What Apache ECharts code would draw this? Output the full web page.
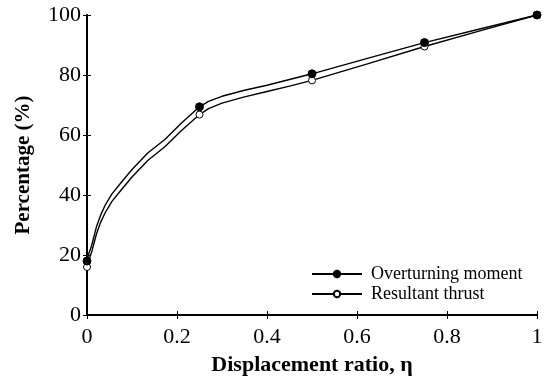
<!DOCTYPE html>
<html>
<head>
<meta charset="utf-8">
<script src="https://cdn.jsdelivr.net/npm/echarts@6/dist/echarts.min.js"></script>
<style>
  html, body { margin: 0; padding: 0; background: #fff; }
  #chart { width: 549px; height: 379px; }
</style>
</head>
<body>
<div id="chart"></div>
<script>
// Displacement ratio at which the two quantities were computed
const ratioPoints = [0, 0.25, 0.5, 0.75, 1];
const momentPoints = [18, 69.4, 80.4, 90.8, 100];
const thrustPoints = [16, 66.8, 78.2, 89.5, 100];

// Points traced along the fitted curves between the computed values
const curveRatio = [0, 0.004, 0.01, 0.021, 0.03, 0.04, 0.055, 0.075, 0.1, 0.135, 0.173, 0.21, 0.25,
                    0.27, 0.3, 0.35, 0.4, 0.45, 0.5, 0.625, 0.75, 0.875, 1];
const momentCurve = [18, 20.5, 23, 29.4, 33.2, 36.5, 40.3, 44, 48.5, 54, 58.5, 64, 69.4,
                     71.2, 72.9, 74.9, 76.6, 78.5, 80.4, 85.6, 90.8, 95.4, 100];
const thrustCurve = [16, 18.3, 20.8, 27, 30.8, 34, 37.8, 41.5, 46, 51.5, 56.1, 61.5, 66.8,
                     68.8, 70.6, 72.7, 74.5, 76.3, 78.2, 83.8, 89.5, 94.8, 100];

const xTicks = ['0', '0.2', '0.4', '0.6', '0.8', '1'];
const yTicks = ['0', '20', '40', '60', '80', '100'];

const FONT = 'Liberation Serif';

// Only the computed points carry a marker; traced points are plain line vertices
function buildSeriesData(xs, ys) {
  return xs.map((x, i) => {
    const marked = ratioPoints.includes(x);
    return marked ? [x, ys[i]] : { value: [x, ys[i]], symbol: 'none' };
  });
}

const chart = echarts.init(document.getElementById('chart'), null, { renderer: 'canvas' });

const axisCommon = {
  min: 0,
  axisLine: { show: true, lineStyle: { color: '#000', width: 2 } },
  axisTick: { show: true, inside: true, length: 4, lineStyle: { color: '#000', width: 1 } },
  splitLine: { show: false }
};

chart.setOption({
  animation: false,
  backgroundColor: '#fff',
  grid: { left: 87, right: 12, top: 15, bottom: 64, containLabel: false, outerBoundsMode: 'none' },
  legend: {
    left: 306,
    top: 260,
    orient: 'vertical',
    itemWidth: 50,
    itemHeight: 8,
    itemGap: 2,
    data: ['Overturning moment', 'Resultant thrust'],
    textStyle: { fontFamily: FONT, fontSize: 18, color: '#000', padding: [0, 0, 0, 4] }
  },
  xAxis: [
    Object.assign({}, axisCommon, {
      type: 'value', max: 1, interval: 0.2, position: 'bottom',
      name: 'Displacement ratio, η',
      nameLocation: 'middle',
      nameGap: 39,
      nameTextStyle: { fontFamily: FONT, fontSize: 22, fontWeight: 'bold', color: '#000' },
      axisLabel: {
        fontFamily: FONT, fontSize: 22, color: '#000', margin: 11,
        formatter: (v) => xTicks[Math.round(v / 0.2)]
      }
    }),
    Object.assign({}, axisCommon, {
      type: 'value', max: 1, interval: 0.2, position: 'top',
      axisLine: { show: true, lineStyle: { color: '#000', width: 1.5 } },
      axisLabel: { show: false }
    })
  ],
  yAxis: [
    Object.assign({}, axisCommon, {
      type: 'value', max: 100, interval: 20, position: 'left',
      name: 'Percentage (%)',
      nameLocation: 'middle',
      nameGap: 53,
      nameTextStyle: { fontFamily: FONT, fontSize: 21, fontWeight: 'bold', color: '#000' },
      axisLabel: {
        fontFamily: FONT, fontSize: 22, color: '#000', margin: 6,
        formatter: (v) => yTicks[Math.round(v / 20)]
      }
    }),
    Object.assign({}, axisCommon, {
      type: 'value', max: 100, interval: 20, position: 'right',
      axisLine: { show: true, lineStyle: { color: '#000', width: 1.5 } },
      axisLabel: { show: false }
    })
  ],
  series: [
    {
      name: 'Overturning moment',
      type: 'line',
      smooth: false,
      showAllSymbol: true,
      symbol: 'circle',
      symbolSize: 8,
      lineStyle: { color: '#000', width: 1.4 },
      itemStyle: { color: '#000', borderColor: '#000', borderWidth: 1 },
      data: buildSeriesData(curveRatio, momentCurve),
      z: 3
    },
    {
      name: 'Resultant thrust',
      type: 'line',
      smooth: false,
      showAllSymbol: true,
      symbol: 'circle',
      symbolSize: 7,
      lineStyle: { color: '#000', width: 1.4 },
      itemStyle: { color: '#fff', borderColor: '#000', borderWidth: 1 },
      data: buildSeriesData(curveRatio, thrustCurve),
      z: 2
    }
  ]
});
</script>
</body>
</html>
